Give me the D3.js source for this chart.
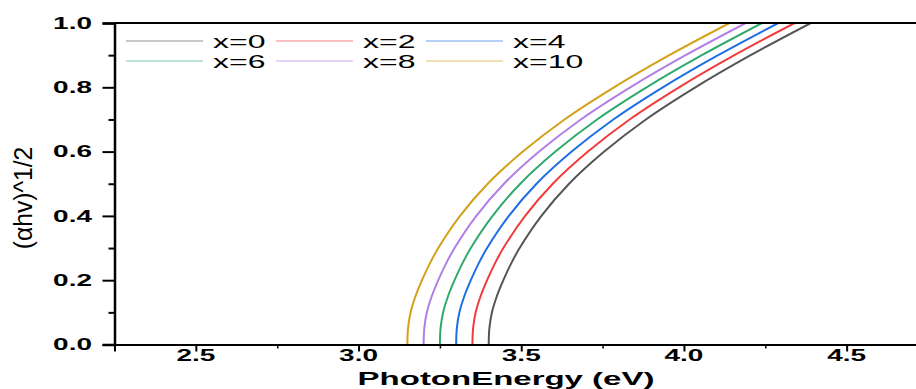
<!DOCTYPE html>
<html>
<head>
<meta charset="utf-8">
<script src="https://cdn.jsdelivr.net/npm/d3@7"></script>
<style>
  html, body { margin: 0; padding: 0; background: #fff; }
  svg { display: block; }
  text { font-family: "Liberation Sans", Arial, sans-serif; fill: #000; }
</style>
</head>
<body>
<svg id="chart" width="916" height="389"></svg>
<script>
// (αhν)^1/2 levels at which each curve's photon energy was sampled
const yLevels = [0, 0.05, 0.1, 0.15, 0.2, 0.25, 0.3, 0.4, 0.5, 0.6, 0.7, 0.8, 0.9, 1.0];

// Photon energy (eV) for each composition at the levels above
const seriesNames = ["x=0", "x=2", "x=4", "x=6", "x=8", "x=10"];
const energyX0  = [3.400, 3.402, 3.410, 3.425, 3.445, 3.468, 3.495, 3.562, 3.647, 3.755, 3.883, 4.035, 4.205, 4.390];
const energyX2  = [3.350, 3.352, 3.360, 3.375, 3.395, 3.418, 3.445, 3.512, 3.597, 3.705, 3.833, 3.985, 4.155, 4.340];
const energyX4  = [3.300, 3.302, 3.310, 3.325, 3.345, 3.368, 3.395, 3.462, 3.547, 3.655, 3.783, 3.935, 4.105, 4.290];
const energyX6  = [3.250, 3.252, 3.260, 3.275, 3.295, 3.318, 3.345, 3.412, 3.497, 3.605, 3.733, 3.885, 4.055, 4.240];
const energyX8  = [3.200, 3.202, 3.210, 3.225, 3.245, 3.268, 3.295, 3.362, 3.447, 3.555, 3.683, 3.835, 4.005, 4.190];
const energyX10 = [3.150, 3.152, 3.160, 3.175, 3.195, 3.218, 3.245, 3.312, 3.397, 3.505, 3.633, 3.785, 3.955, 4.140];
const seriesColors = ["#555555", "#f03c3c", "#1e6fe6", "#2eaa6c", "#b27ee8", "#d4a017"];

const xTicks = [2.5, 3.0, 3.5, 4.0, 4.5];
const xMinor = [2.25, 2.75, 3.25, 3.75, 4.25, 4.75];
const yTicks = [0.0, 0.2, 0.4, 0.6, 0.8, 1.0];
const yMinor = [0.1, 0.3, 0.5, 0.7, 0.9];

const xTitle = "PhotonEnergy (eV)";
const yTitle = "(αhv)^1/2";

// Horizontal text is drawn vertically compressed (wide, flat lettering)
const SQ = 0.57;

const svg = d3.select("#chart");
const plotLeft = 114.5, plotRight = 928, plotTop = 23, plotBottom = 344.5;

const x = d3.scaleLinear().domain([2.25, 4.75]).range([plotLeft, plotRight]);
const y = d3.scaleLinear().domain([0, 1]).range([plotBottom, plotTop]);

const series = [energyX0, energyX2, energyX4, energyX6, energyX8, energyX10].map((e, i) => ({
  name: seriesNames[i],
  color: seriesColors[i],
  points: e.map((v, j) => ({ e: v, a: yLevels[j] }))
}));

svg.append("defs").append("clipPath").attr("id", "plot-clip")
  .append("rect").attr("x", plotLeft).attr("y", plotTop)
  .attr("width", plotRight - plotLeft).attr("height", plotBottom - plotTop);

// Curves
const line = d3.line().x(d => x(d.e)).y(d => y(d.a)).curve(d3.curveCatmullRom.alpha(0.5));
svg.append("g").attr("clip-path", "url(#plot-clip)")
  .selectAll("path").data(series).join("path")
  .attr("d", d => line(d.points))
  .attr("fill", "none")
  .attr("stroke", d => d.color)
  .attr("stroke-width", 2);

// Axes
const xAxis = svg.append("g").attr("transform", `translate(0,${plotBottom})`)
  .call(d3.axisBottom(x).tickValues(xTicks).tickSize(7).tickFormat(() => ""));
xAxis.select(".domain").attr("stroke-width", 2);
xAxis.selectAll(".tick line").attr("stroke-width", 2);
svg.append("g").attr("transform", `translate(0,${plotBottom})`)
  .call(d3.axisBottom(x).tickValues(xMinor).tickSize(4).tickFormat(() => ""))
  .call(g => g.select(".domain").remove())
  .selectAll(".tick line").attr("stroke-width", 1.5);

const yAxis = svg.append("g").attr("transform", `translate(${plotLeft},0)`)
  .call(d3.axisLeft(y).tickValues(yTicks).tickSize(12).tickFormat(() => ""));
yAxis.select(".domain").attr("stroke-width", 2.5);
yAxis.selectAll(".tick line").attr("stroke-width", 2);
svg.append("g").attr("transform", `translate(${plotLeft},0)`)
  .call(d3.axisLeft(y).tickValues(yMinor).tickSize(6).tickFormat(() => ""))
  .call(g => g.select(".domain").remove())
  .selectAll(".tick line").attr("stroke-width", 2);

// Top frame line
svg.append("line").attr("x1", plotLeft).attr("x2", 916).attr("y1", plotTop).attr("y2", plotTop)
  .attr("stroke", "#000").attr("stroke-width", 2);

// Tick labels
svg.append("g").selectAll("text").data(xTicks).join("text")
  .attr("transform", d => `translate(${x(d)},361) scale(1,${SQ})`)
  .attr("text-anchor", "middle")
  .attr("font-weight", "bold").attr("font-size", 28)
  .text(d => d.toFixed(1));

svg.append("g").selectAll("text").data(yTicks).join("text")
  .attr("transform", d => `translate(92,${y(d) + 5.6}) scale(1,${SQ})`)
  .attr("text-anchor", "end")
  .attr("font-weight", "bold").attr("font-size", 28)
  .text(d => d.toFixed(1));

// Axis titles
svg.append("text")
  .attr("transform", `translate(506,385) scale(1,${SQ})`)
  .attr("text-anchor", "middle")
  .attr("font-weight", "bold").attr("font-size", 33)
  .text(xTitle);

svg.append("text")
  .attr("transform", `translate(32,198) scale(1,0.95) rotate(-90)`)
  .attr("text-anchor", "middle")
  .attr("font-size", 26)
  .text(yTitle);

// Legend: three columns, two rows
const legend = svg.append("g");
const items = legend.selectAll("g").data(series).join("g")
  .attr("transform", (d, i) => `translate(${126 + (i % 3) * 150},${41 + Math.floor(i / 3) * 20})`);
items.append("line")
  .attr("x1", 0).attr("x2", 77).attr("y1", 0).attr("y2", 0)
  .attr("stroke", d => d.color).attr("stroke-width", 1.2).attr("stroke-opacity", 0.65);
items.append("text")
  .attr("transform", `translate(87,6.5) scale(1,${SQ})`)
  .attr("font-size", 32)
  .text(d => d.name);
</script>
</body>
</html>
